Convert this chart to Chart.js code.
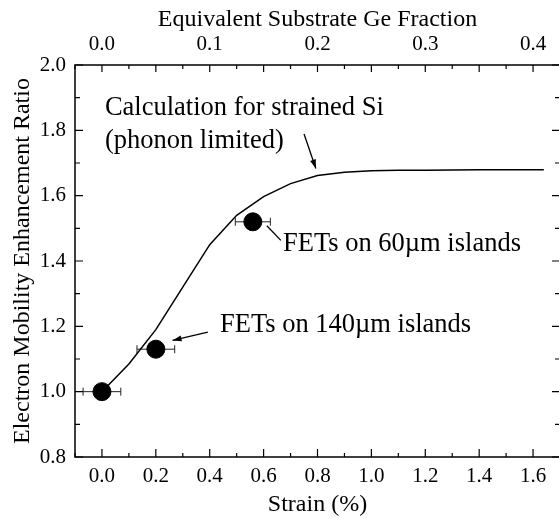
<!DOCTYPE html>
<html><head><meta charset="utf-8">
<script src="https://cdn.jsdelivr.net/npm/chart.js@4.4.1/dist/chart.umd.min.js"></script>
<style>
html,body{margin:0;padding:0;overflow:hidden;background:#fff;width:559px;height:519px}
#wrap{position:absolute;left:0;top:0;width:600px;height:519px}
</style>
</head><body><div id="wrap"><canvas id="c" width="600" height="519"></canvas></div>
<script>
// ---- data ----
const strainCurve = [0, 0.1, 0.2, 0.3, 0.4, 0.5, 0.6, 0.7, 0.8, 0.9, 1.0, 1.1, 1.2, 1.4, 1.64];
const ratioCurve  = [1.0, 1.085, 1.19, 1.32, 1.45, 1.54, 1.597, 1.637, 1.662, 1.672, 1.676, 1.678, 1.678, 1.679, 1.679];
const strainMeas  = [0.0, 0.2, 0.56];
const ratioMeas   = [1.0, 1.13, 1.52];
const strainErr   = [0.07, 0.07, 0.065];
const strainTicks = [0.0, 0.2, 0.4, 0.6, 0.8, 1.0, 1.2, 1.4, 1.6];
const geTicks     = [0.0, 0.1, 0.2, 0.3, 0.4];
const ratioTicks  = [0.8, 1.0, 1.2, 1.4, 1.6, 1.8, 2.0];
const annotations = [
  {lines: ['Calculation for strained Si', '(phonon limited)'], x: 0.011, y: 1.847, lineGap: 0.1,
   arrow: {from: [0.75, 1.789], to: [0.794, 1.683], head: true}},
  {lines: ['FETs on 60\u00B5m islands'], x: 0.672, y: 1.432,
   arrow: {from: [0.664, 1.463], to: [0.612, 1.508], head: false}},
  {lines: ['FETs on 140\u00B5m islands'], x: 0.438, y: 1.182,
   arrow: {from: [0.393, 1.182], to: [0.262, 1.157], head: true}}
];

const FONT = '"Liberation Serif", "Times New Roman", serif';

const axisPlugin = {
  id: 'axisPlugin',
  beforeDatasetsDraw(chart) {
    const ctx = chart.ctx, xs = chart.scales.x, ys = chart.scales.y;
    ctx.save();
    ctx.strokeStyle = '#222';
    ctx.lineWidth = 1;
    strainMeas.forEach((s, i) => {
      const x1 = xs.getPixelForValue(s - strainErr[i]);
      const x2 = xs.getPixelForValue(s + strainErr[i]);
      const y = ys.getPixelForValue(ratioMeas[i]);
      ctx.beginPath();
      ctx.moveTo(x1, y); ctx.lineTo(x2, y);
      ctx.moveTo(x1, y - 4); ctx.lineTo(x1, y + 4);
      ctx.moveTo(x2, y - 4); ctx.lineTo(x2, y + 4);
      ctx.stroke();
    });
    ctx.restore();
  },
  afterDraw(chart) {
    const ctx = chart.ctx, a = chart.chartArea;
    const xs = chart.scales.x, x2 = chart.scales.x2, ys = chart.scales.y;
    ctx.save();
    ctx.strokeStyle = '#000';
    ctx.lineWidth = 1.5;
    ctx.strokeRect(a.left, a.top, a.right - a.left, a.bottom - a.top);
    ctx.lineWidth = 1.2;
    ctx.beginPath();
    for (let k = -1; k <= 17; k++) {
      const v = k / 10, px = xs.getPixelForValue(v);
      const len = (k % 2 === 0) ? 8 : 4;
      ctx.moveTo(px, a.bottom); ctx.lineTo(px, a.bottom - len);
    }
    for (let k = -1; k <= 17; k++) {
      const v = k * 0.025, px = x2.getPixelForValue(v);
      const len = (k % 2 === 0) ? 7 : 4;
      ctx.moveTo(px, a.top); ctx.lineTo(px, a.top + len);
    }
    for (let k = 8; k <= 20; k++) {
      const v = k / 10, py = ys.getPixelForValue(v);
      const len = (k % 2 === 0) ? 8 : 5;
      ctx.moveTo(a.left, py); ctx.lineTo(a.left + len, py);
      ctx.moveTo(a.right, py); ctx.lineTo(a.right - len, py);
    }
    ctx.stroke();

    ctx.fillStyle = '#000';
    ctx.font = '26.5px ' + FONT;
    ctx.textBaseline = 'alphabetic';
    ctx.textAlign = 'left';
    annotations.forEach(an => {
      an.lines.forEach((t, i) => {
        ctx.fillText(t, xs.getPixelForValue(an.x), ys.getPixelForValue(an.y - i * (an.lineGap || 0)));
      });
      const fx = xs.getPixelForValue(an.arrow.from[0]), fy = ys.getPixelForValue(an.arrow.from[1]);
      const tx = xs.getPixelForValue(an.arrow.to[0]), ty = ys.getPixelForValue(an.arrow.to[1]);
      ctx.lineWidth = 1.3;
      ctx.beginPath(); ctx.moveTo(fx, fy); ctx.lineTo(tx, ty); ctx.stroke();
      if (an.arrow.head) {
        const ang = Math.atan2(ty - fy, tx - fx), L = 9, W = 3;
        ctx.beginPath();
        ctx.moveTo(tx, ty);
        ctx.lineTo(tx - L * Math.cos(ang) + W * Math.sin(ang), ty - L * Math.sin(ang) - W * Math.cos(ang));
        ctx.lineTo(tx - L * Math.cos(ang) - W * Math.sin(ang), ty - L * Math.sin(ang) + W * Math.cos(ang));
        ctx.closePath(); ctx.fill();
      }
    });
    ctx.restore();
  }
};

const tickFont = {family: FONT, size: 21};
const titleFont = {family: FONT, size: 24};

new Chart(document.getElementById('c'), {
  data: {
    datasets: [
      {type: 'line', data: strainCurve.map((x, i) => ({x, y: ratioCurve[i]})),
       borderColor: '#000', borderWidth: 1.5, pointRadius: 0, tension: 0, fill: false, xAxisID: 'x', yAxisID: 'y'},
      {type: 'scatter', data: strainMeas.map((x, i) => ({x, y: ratioMeas[i]})),
       backgroundColor: '#000', borderColor: '#000', pointRadius: 9, pointHoverRadius: 9, xAxisID: 'x', yAxisID: 'y'}
    ]
  },
  options: {
    responsive: false,
    animation: false,
    events: [],
    layout: {padding: {left: 0, right: 40, top: 0, bottom: 0}},
    plugins: {legend: {display: false}, tooltip: {enabled: false}},
    scales: {
      x: {
        type: 'linear', position: 'bottom', min: -0.1, max: 1.7,
        afterBuildTicks: s => { s.ticks = strainTicks.map(v => ({value: v})); },
        afterFit: s => { s.height = 62; },
        grid: {display: false, drawTicks: false}, border: {display: false},
        ticks: {font: tickFont, color: '#000', padding: 7, maxRotation: 0, callback: v => Number(v).toFixed(1)},
        title: {display: true, text: 'Strain (%)', font: titleFont, color: '#000', padding: {top: 0, bottom: 0}}
      },
      x2: {
        type: 'linear', position: 'top', min: -0.025, max: 0.425,
        afterBuildTicks: s => { s.ticks = geTicks.map(v => ({value: v})); },
        afterFit: s => { s.height = 65; },
        grid: {display: false, drawTicks: false}, border: {display: false},
        ticks: {font: tickFont, color: '#000', padding: 8, maxRotation: 0, callback: v => Number(v).toFixed(1)},
        title: {display: true, text: 'Equivalent Substrate Ge Fraction', font: titleFont, color: '#000', padding: {top: 5, bottom: 0}}
      },
      y: {
        type: 'linear', position: 'left', min: 0.8, max: 2.0,
        afterBuildTicks: s => { s.ticks = ratioTicks.map(v => ({value: v})); },
        afterFit: s => { s.width = 75; },
        grid: {display: false, drawTicks: false}, border: {display: false},
        ticks: {font: tickFont, color: '#000', padding: 9, callback: v => Number(v).toFixed(1)},
        title: {display: true, text: 'Electron Mobility Enhancement Ratio', font: titleFont, color: '#000', padding: {top: 8, bottom: 0}}
      }
    }
  },
  plugins: [axisPlugin]
});
</script>
</body></html>
